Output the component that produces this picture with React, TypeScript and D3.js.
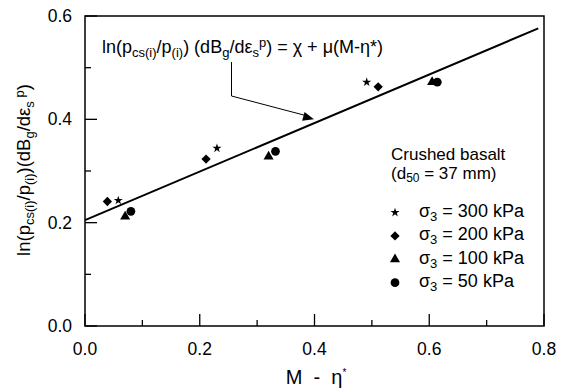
import React from "react"
import * as d3 from "d3"

// data: x = M - eta*, y = ln(pcs/p)(dBg/deps)
const series = ["300", "200", "100", "50"]
const x300 = [0.058, 0.23, 0.491]
const y300 = [0.243, 0.344, 0.472]
const x200 = [0.039, 0.211, 0.511]
const y200 = [0.241, 0.323, 0.463]
const x100 = [0.07, 0.32, 0.605]
const y100 = [0.212, 0.328, 0.472]
const x50 = [0.08, 0.332, 0.614]
const y50 = [0.222, 0.338, 0.472]
const fitX = [0, 0.79]
const fitY = [0.205, 0.576]
const xTicks = [0, 0.2, 0.4, 0.6, 0.8]
const yTicks = [0, 0.2, 0.4, 0.6]
const arrowTarget = [0.399, 0.4]

const W = 563
const H = 392
const m = { left: 85, right: 19, top: 16, bottom: 66 }
const font = "'Liberation Sans', Arial, sans-serif"

const symbols: Record<string, d3.SymbolType> = {
  "300": d3.symbolStar,
  "200": d3.symbolDiamond2,
  "100": d3.symbolTriangle,
  "50": d3.symbolCircle,
}
const symSize: Record<string, number> = { "300": 26, "200": 55, "100": 44, "50": 60 }

export default function App() {
  const x = d3.scaleLinear().domain([0, 0.8]).range([m.left, W - m.right])
  const y = d3.scaleLinear().domain([0, 0.6]).range([H - m.bottom, m.top])

  const pts: Record<string, [number[], number[]]> = {
    "300": [x300, y300],
    "200": [x200, y200],
    "100": [x100, y100],
    "50": [x50, y50],
  }
  const sym = (k: string) => d3.symbol().type(symbols[k]).size(symSize[k])() as string

  const line = d3.line<number>().x((d) => x(fitX[d])).y((d) => y(fitY[d]))

  const ax = x(arrowTarget[0])
  const ay = y(arrowTarget[1])
  const kx = 231.5
  const leader = `M${kx},62 L${kx},96 L${ax - 9},${ay - 4}`
  const ang = Math.atan2(ay - 96, ax - kx)

  const minorX = d3.range(0.1, 0.8, 0.2)
  const minorY = d3.range(0.1, 0.6, 0.2)
  const x0 = x(0)
  const yb = y(0)

  return (
    <svg width={W} height={H} style={{ position: "absolute", left: 0, top: 0 }} fontFamily={font}>
      <rect width={W} height={H} fill="#fff" />
      {/* frame */}
      <rect x={x0} y={y(0.6)} width={x(0.8) - x0} height={yb - y(0.6)} fill="none" stroke="#000" strokeWidth={1.5} />
      {xTicks.map((t) => (
        <g key={"xt" + t}>
          <line x1={x(t)} x2={x(t)} y1={yb} y2={yb - 12} stroke="#000" strokeWidth={1.3} />
          <text x={x(t)} y={355} fontSize={17.5} textAnchor="middle">{t.toFixed(1)}</text>
        </g>
      ))}
      {minorX.map((t) => (
        <line key={"xm" + t} x1={x(t)} x2={x(t)} y1={yb} y2={yb - 6} stroke="#000" strokeWidth={1.3} />
      ))}
      {yTicks.map((t) => (
        <g key={"yt" + t}>
          <line x1={x0} x2={x0 + 12} y1={y(t)} y2={y(t)} stroke="#000" strokeWidth={1.3} />
          <text x={x0 - 13} y={y(t) + 6} fontSize={17.5} textAnchor="end">{t.toFixed(1)}</text>
        </g>
      ))}
      {minorY.map((t) => (
        <line key={"ym" + t} x1={x0} x2={x0 + 6} y1={y(t)} y2={y(t)} stroke="#000" strokeWidth={1.3} />
      ))}

      {/* fit line */}
      <path d={line([0, 1]) as string} fill="none" stroke="#000" strokeWidth={2} />

      {/* points */}
      {series.map((k) =>
        pts[k][0].map((v, i) => (
          <path key={k + i} d={sym(k)} transform={`translate(${x(v)},${y(pts[k][1][i])})`} fill="#000" />
        ))
      )}

      {/* annotation */}
      <path d={leader} fill="none" stroke="#000" strokeWidth={1} />
      <path
        d="M0,0 L-11,-4.5 L-11,4.5 Z"
        transform={`translate(${ax},${ay}) rotate(${(ang * 180) / Math.PI})`}
        fill="#000"
      />
      <text x={102} y={53} fontSize={18}>
        ln(p<tspan dy={4} fontSize={13}>cs(i)</tspan>
        <tspan dy={-4}>/p</tspan>
        <tspan dy={4} fontSize={13}>(i)</tspan>
        <tspan dy={-4}>) (dB</tspan>
        <tspan dy={4} fontSize={13}>g</tspan>
        <tspan dy={-4}>/dε</tspan>
        <tspan dy={4} fontSize={13}>s</tspan>
        <tspan dy={-10} fontSize={13}>p</tspan>
        <tspan dy={6}>) = χ + μ(M-η*)</tspan>
      </text>

      {/* legend */}
      <text x={391} y={159.5} fontSize={17}>Crushed basalt</text>
      <text x={391} y={178.5} fontSize={17}>
        (d<tspan dy={3.5} fontSize={12}>50</tspan>
        <tspan dy={-3.5}> = 37 mm)</tspan>
      </text>
      {series.map((k, i) => {
        const bl = 217 + i * 23.4
        return (
          <g key={"lg" + k}>
            <path d={sym(k)} transform={`translate(395,${bl - 4.5})`} fill="#000" />
            <text x={419} y={bl} fontSize={18}>
              σ<tspan dy={4} fontSize={13}>3</tspan>
              <tspan dy={-4}> = {k} kPa</tspan>
            </text>
          </g>
        )
      })}

      {/* axis titles */}
      <text x={316} y={384} fontSize={20} textAnchor="middle" style={{ whiteSpace: "pre" }}>
        {"M  -  η"}<tspan dy={-8} fontSize={10}>*</tspan>
      </text>
      <text transform={`translate(30,170) rotate(-90)`} fontSize={18.5} textAnchor="middle">
        ln(p<tspan dy={4} fontSize={13}>cs(i)</tspan>
        <tspan dy={-4}>/p</tspan>
        <tspan dy={4} fontSize={13}>(i)</tspan>
        <tspan dy={-4}>)(dB</tspan>
        <tspan dy={4} fontSize={13}>g</tspan>
        <tspan dy={-4}>/dε</tspan>
        <tspan dy={4} fontSize={13}>s</tspan>
        <tspan dy={-10} fontSize={13}> p</tspan>
        <tspan dy={6}>)</tspan>
      </text>
    </svg>
  )
}
